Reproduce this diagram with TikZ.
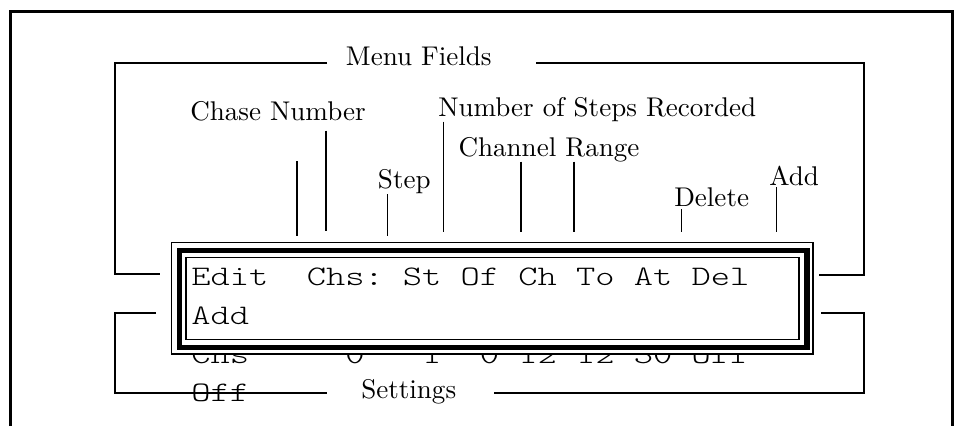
\documentclass[tikz,border=0pt]{standalone}
\usepackage{fontspec}
\usepackage{graphicx}
\newfontfamily\lblfont{lmroman10-regular}[Extension=.otf]
\newfontfamily\lcdfont{lmmonolt10-regular}[Extension=.otf]
\newcommand\lcdline[1]{\scalebox{1.297}[1]{\fontsize{21.2}{25}\lcdfont #1}}
\begin{document}
\begin{tikzpicture}[x=0.75pt,y=-0.75pt,
  lbl/.style={anchor=base west,inner sep=0pt,font=\fontsize{20.3}{24}\lblfont},
  lcd/.style={anchor=base west,inner sep=0pt},
  bracket/.style={line width=0.9pt},
  tickline/.style={line width=0.9pt},
  frame/.style={line width=1.9pt},
  thinbox/.style={line width=0.8pt},
  thickbox/.style={line width=3.8pt}]
\useasboundingbox (0,0) rectangle (959,426);

% page frame (open at the bottom)
\coordinate (fbl) at (10.7,426);
\coordinate (ftl) at (10.7,11.3);
\coordinate (ftr) at (952.7,11.3);
\coordinate (fbr) at (952.7,426);
\draw[frame] (fbl) -- (ftl) -- (ftr) -- (fbr);

% hidden lines of the display (partly covered by the box)
\node[lcd] (row3) at (191,363) {\lcdline{Chs~~~~~0~~~1~~0~12~12~30~Off}};
\node[lcd] (row4) at (191,401) {\lcdline{Off}};

% display box
\coordinate (ob1) at (171.5,242.5); \coordinate (ob2) at (813,354);
\coordinate (tb1) at (179.3,250.3); \coordinate (tb2) at (807,347.2);
\coordinate (ib1) at (186,257.3);   \coordinate (ib2) at (799,339.5);
\draw[thinbox,fill=white] (ob1) rectangle (ob2);
\draw[thickbox] (tb1) rectangle (tb2);
\draw[thinbox] (ib1) rectangle (ib2);
\node[lcd] (row1) at (191,285) {\lcdline{Edit~~Chs:~St~Of~Ch~To~At~Del}};
\node[lcd] (row2) at (191,324) {\lcdline{Add}};

% labels
\node[lbl] (menu) at (345.7,65) {Menu Fields};
\node[lbl] (chase) at (190,120) {Chase Number};
\node[lbl] (nsteps) at (438,116.7) {Number of Steps Recorded};
\node[lbl] (chan) at (458.3,156) {Channel Range};
\node[lbl] (step) at (377.7,188) {Step};
\node[lbl] (del) at (674,206.7) {Delete};
\node[lbl] (add) at (769,185) {Add};
\node[lbl] (settings) at (361,398.5) {Settings};

% menu fields bracket
\coordinate (m1) at (327,63);  \coordinate (m2) at (115,63);
\coordinate (m3) at (115,274); \coordinate (m4) at (160,274);
\coordinate (m5) at (536,63);  \coordinate (m6) at (864,63);
\coordinate (m7) at (864,275); \coordinate (m8) at (819,275);
\draw[bracket] (m1) -- (m2) -- (m3) -- (m4);
\draw[bracket] (m5) -- (m6) -- (m7) -- (m8);

% settings bracket
\coordinate (s1) at (156,313); \coordinate (s2) at (115,313);
\coordinate (s3) at (115,393); \coordinate (s4) at (327,393);
\coordinate (s5) at (494,393); \coordinate (s6) at (864,393);
\coordinate (s7) at (864,313); \coordinate (s8) at (821,313);
\draw[bracket] (s1) -- (s2) -- (s3) -- (s4);
\draw[bracket] (s5) -- (s6) -- (s7) -- (s8);

% ticks
\coordinate (t1a) at (297,161);    \coordinate (t1b) at (297,236);
\coordinate (t2a) at (326,130.7);  \coordinate (t2b) at (326,231);
\coordinate (t3a) at (387.7,194.3);\coordinate (t3b) at (387.7,236);
\coordinate (t4a) at (443.7,121.7);\coordinate (t4b) at (443.7,231.7);
\coordinate (t5a) at (521,161.7);  \coordinate (t5b) at (521,231.7);
\coordinate (t6a) at (574,161.7);  \coordinate (t6b) at (574,231.7);
\coordinate (t7a) at (681.5,209);  \coordinate (t7b) at (681.5,231.7);
\coordinate (t8a) at (776.7,187.3);\coordinate (t8b) at (776.7,231.7);
\foreach \t in {1,...,8}{\draw[tickline] (t\t a) -- (t\t b);}
\end{tikzpicture}
\end{document}
